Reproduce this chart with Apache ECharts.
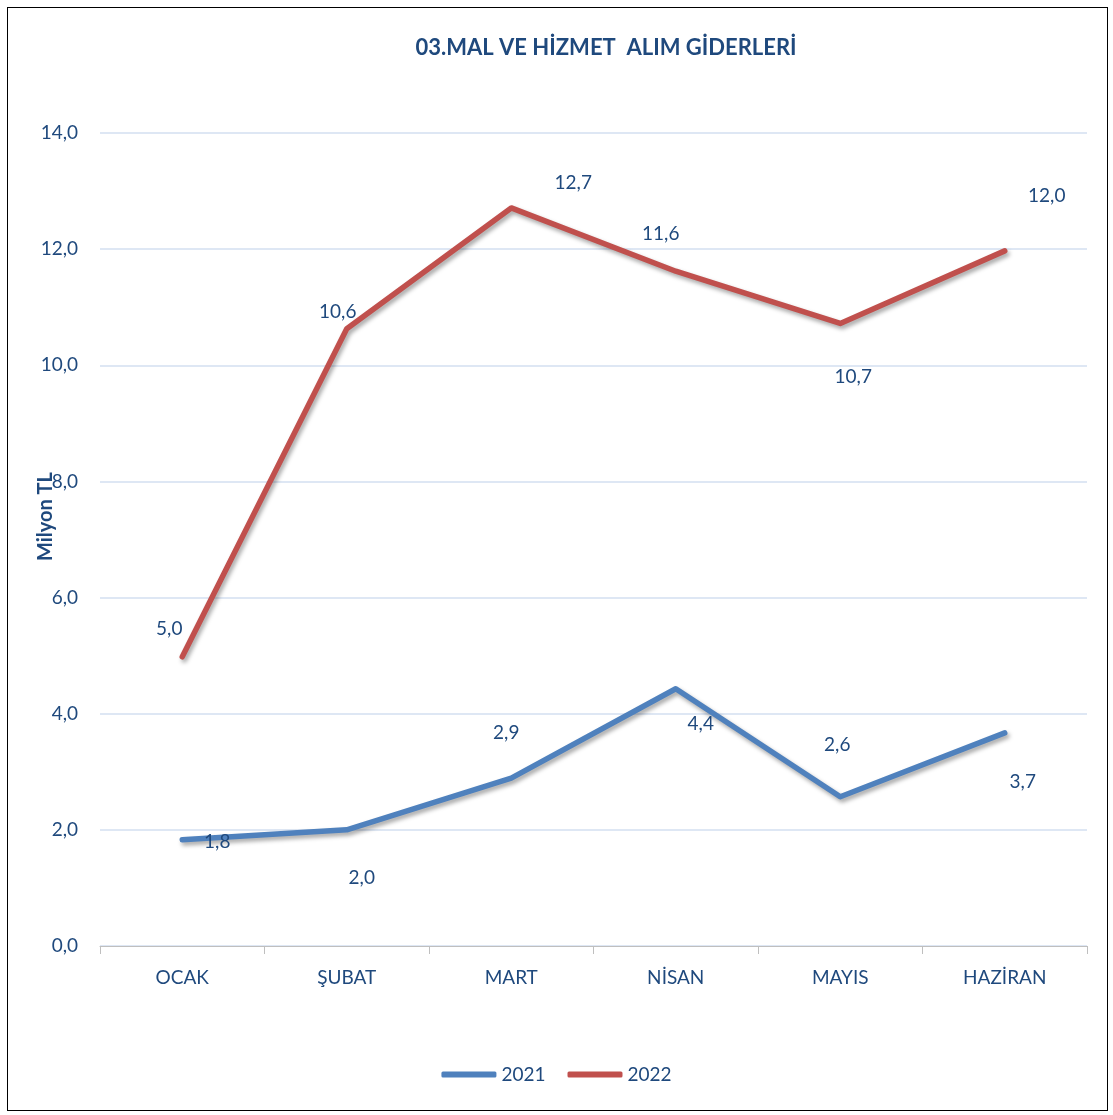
<!DOCTYPE html>
<html>
<head>
<meta charset="utf-8">
<script src="https://cdn.jsdelivr.net/npm/echarts@6/dist/echarts.min.js"></script>
<style>
  body { margin: 0; background: #fff; }
  #frame { position: absolute; left: 7px; top: 7px; width: 1099px; height: 1102px; border: 1px solid #000; }
  #grafico { position: absolute; left: 0; top: 0; width: 1113px; height: 1115px; }
</style>
</head>
<body>
<div id="frame"></div>
<div id="grafico"></div>
<script>
var meses = ['OCAK', 'ŞUBAT', 'MART', 'NİSAN', 'MAYIS', 'HAZİRAN'];
var anos = ['2021', '2022'];
var valores2021 = [1.83, 2.0, 2.89, 4.43, 2.57, 3.67];
var valores2022 = [4.98, 10.63, 12.71, 11.62, 10.72, 11.97];
var yTicks = [0, 2, 4, 6, 8, 10, 12, 14];

// posicao dos rotulos (como no excel, colocados a mao)
var desloc2021 = [[35, 2], [15, 48], [-5, -45], [25, 35], [-3, -52], [18, 49]];
var desloc2022 = [[-13, -28], [-9, -17], [62, -25], [-15, -37], [13, 53], [42, -55]];

var fonte = 'Lato, "Open Sans", sans-serif';
var azulTexto = '#1F497D';

function montar(valores, desloc) {
  return valores.map(function (v, i) {
    return { value: v, label: { offset: desloc[i] } };
  });
}
function virgula(v) { return v.toFixed(1).replace('.', ','); }

var chartDom = document.getElementById('grafico');
var myChart = echarts.init(chartDom);
var option;

var estiloLinha = { width: 5.5, cap: 'round', join: 'round', shadowColor: 'rgba(0,0,0,0.35)', shadowBlur: 4, shadowOffsetX: 2, shadowOffsetY: 3 };
var rotulo = {
  show: true, position: 'inside', fontFamily: fonte, fontSize: 19, color: azulTexto,
  formatter: function (p) { return virgula(p.value); }
};

option = {
  animation: false,
  textStyle: { fontFamily: fonte },
  title: {
    text: '03.MAL VE HİZMET  ALIM GİDERLERİ',
    left: 601,
    textAlign: 'center',
    top: 32,
    textStyle: { fontFamily: fonte, fontSize: 22, fontWeight: 'bold', color: azulTexto }
  },
  graphic: [{
    type: 'text',
    left: 36,
    top: 472,
    rotation: Math.PI / 2,
    style: { text: 'Milyon TL', fontFamily: fonte, fontSize: 20, fontWeight: 'bold', fill: azulTexto }
  }],
  grid: { left: 100, right: 26, top: 133, bottom: 169 },
  legend: {
    data: anos,
    bottom: 26,
    left: 'center',
    itemWidth: 55,
    itemHeight: 6,
    itemGap: 22,
    icon: 'roundRect',
    textStyle: { fontFamily: fonte, fontSize: 19, color: azulTexto }
  },
  xAxis: {
    type: 'category',
    data: meses,
    boundaryGap: true,
    axisLine: { lineStyle: { color: '#BFBFBF', width: 1 } },
    axisTick: { show: true, length: 8, lineStyle: { color: '#BFBFBF' } },
    axisLabel: { fontFamily: fonte, fontSize: 19, color: azulTexto, margin: 22 }
  },
  yAxis: {
    type: 'value',
    min: yTicks[0],
    max: yTicks[yTicks.length - 1],
    interval: 2,
    axisLine: { show: false },
    axisTick: { show: false },
    axisLabel: { fontFamily: fonte, fontSize: 19, color: azulTexto, margin: 22, formatter: virgula },
    splitLine: { lineStyle: { color: '#D3DFF1', width: 1.5 } }
  },
  series: [
    {
      name: anos[0],
      type: 'line',
      data: montar(valores2021, desloc2021),
      symbol: 'circle',
      symbolSize: 1,
      showSymbol: true,
      color: '#4F81BD',
      lineStyle: estiloLinha,
      label: rotulo
    },
    {
      name: anos[1],
      type: 'line',
      data: montar(valores2022, desloc2022),
      symbol: 'circle',
      symbolSize: 1,
      showSymbol: true,
      color: '#C0504D',
      lineStyle: estiloLinha,
      label: rotulo
    }
  ]
};

option && myChart.setOption(option);
</script>
</body>
</html>
